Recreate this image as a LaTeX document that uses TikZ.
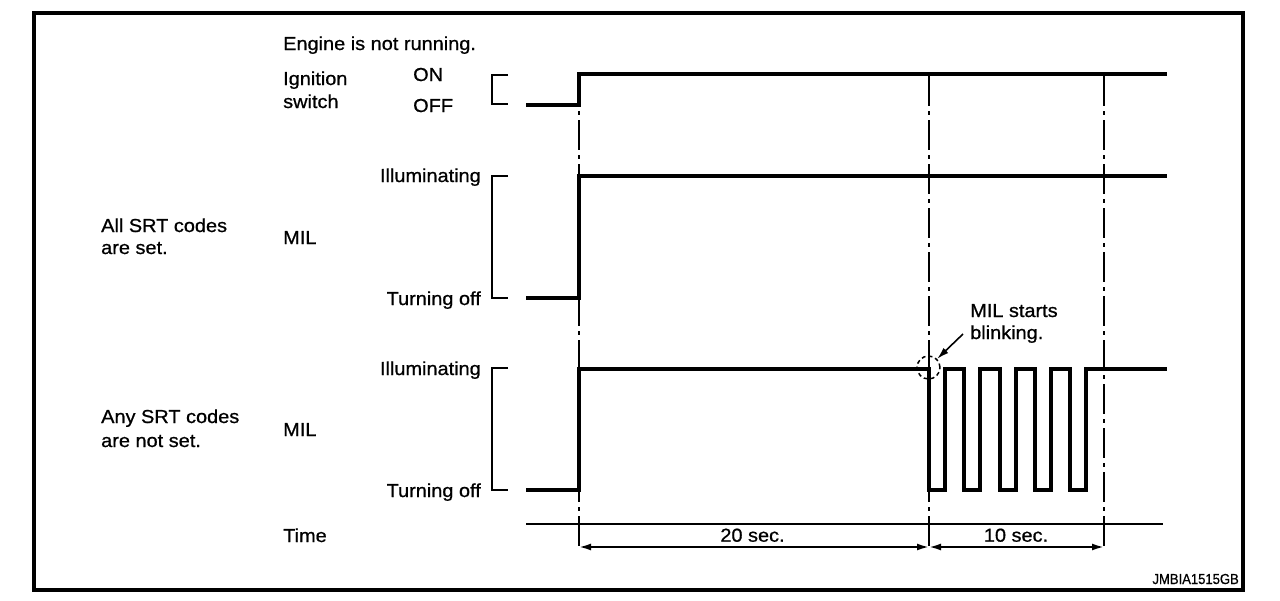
\documentclass[tikz,border=0pt]{standalone}
\usepackage{fontspec}
\setmainfont{Liberation Sans}[FakeStretch=1.06,FakeBold=0.8]
\newfontfamily\codefont{Liberation Sans}[FakeStretch=0.9,FakeBold=0.6]
\usetikzlibrary{arrows.meta}
\tikzset{
  lbl/.style={inner sep=0pt, font=\fontsize{18.8}{22}\selectfont},
  signal/.style={line width=4pt, line join=miter},
  bracket/.style={line width=2pt},
  timemark/.style={line width=2pt, dash pattern=on 30pt off 5pt on 4pt off 5pt},
  dimline/.style={line width=2pt, {Latex[length=12pt,width=7pt]}-{Latex[length=12pt,width=7pt]}},
}

\begin{document}
\begin{tikzpicture}[x=1pt,y=-1pt]
    \useasboundingbox (0,0) rectangle (1280,600);
    \draw[line width=4pt] (34,13) rectangle (1243,590);

    % labels
    \node[lbl, anchor=base west] (engine) at (283,50) {Engine is not running.};
    \node[lbl, anchor=base west] (ignA) at (283,85) {Ignition};
    \node[lbl, anchor=base west] (ignB) at (283,108) {switch};
    \node[lbl, anchor=base west] (on) at (413,81) {ON};
    \node[lbl, anchor=base west] (off) at (413,112) {OFF};
    \node[lbl, anchor=base west] (allA) at (101,232) {All SRT codes};
    \node[lbl, anchor=base west] (allB) at (101,254) {are set.};
    \node[lbl, anchor=base west] (milA) at (283,244) {MIL};
    \node[lbl, anchor=base east] (illumA) at (481,182) {Illuminating};
    \node[lbl, anchor=base east] (offA) at (481,305) {Turning off};
    \node[lbl, anchor=base west] (anyA) at (101,423) {Any SRT codes};
    \node[lbl, anchor=base west] (anyB) at (101,447) {are not set.};
    \node[lbl, anchor=base west] (milB) at (283,436) {MIL};
    \node[lbl, anchor=base east] (illumB) at (481,375) {Illuminating};
    \node[lbl, anchor=base east] (offB) at (481,497) {Turning off};
    \node[lbl, anchor=base west] (time) at (283,542) {Time};
    \node[lbl, anchor=base west] (blinkA) at (970,317) {MIL starts};
    \node[lbl, anchor=base west] (blinkB) at (970,339) {blinking.};
    \node[lbl, anchor=base] (dur20) at (752.5,541.7) {20 sec.};
    \node[lbl, anchor=base] (dur10) at (1016,541.7) {10 sec.};
    \node[inner sep=0pt, anchor=base east, font=\codefont\fontsize{14.5}{16}\selectfont] (code) at (1239,584) {JMBIA1515GB};

    % level brackets
    \draw[bracket] (508,75) -- (492,75) -- (492,104) -- (508,104);
    \draw[bracket] (508,176) -- (492,176) -- (492,298) -- (508,298);
    \draw[bracket] (508,368) -- (492,368) -- (492,490) -- (508,490);

    % time marks
    \foreach \t in {579,929,1104}
      \draw[timemark] (\t,76) -- (\t,550);
    \draw[line width=2pt] (526,524.3) -- (1163,524.3);

    % signals
    \draw[signal] (526,104.5) -- (579,104.5) -- (579,74) -- (1167,74);
    \draw[signal] (526,297.5) -- (579,297.5) -- (579,175.7) -- (1167,175.7);
    \draw[signal] (526,490) -- (579,490) -- (579,368.5)
      foreach \x in {929,964.25,999.5,1034.75,1070} { -- (\x,368.5) -- (\x,490) -- (\x+16,490) -- (\x+16,368.5) }
      -- (1167,368.5);

    % blinking start
    \node[circle, draw, line width=1.5pt, dash pattern=on 4pt off 3pt, minimum size=23pt, inner sep=0pt] (blinkmark) at (928.5,367.5) {};
    \coordinate (blinkfrom) at (963,334);
    \draw[line width=1.6pt, -{Latex[length=12pt,width=7pt]}] (blinkfrom) -- (blinkmark.north east);

    % durations
    \coordinate (d0) at (579,547);
    \coordinate (d1) at (929,547);
    \coordinate (d2) at (1104,547);
    \draw[dimline] (d0) -- (d1);
    \draw[dimline] (d1) -- (d2);
\end{tikzpicture}
\end{document}
